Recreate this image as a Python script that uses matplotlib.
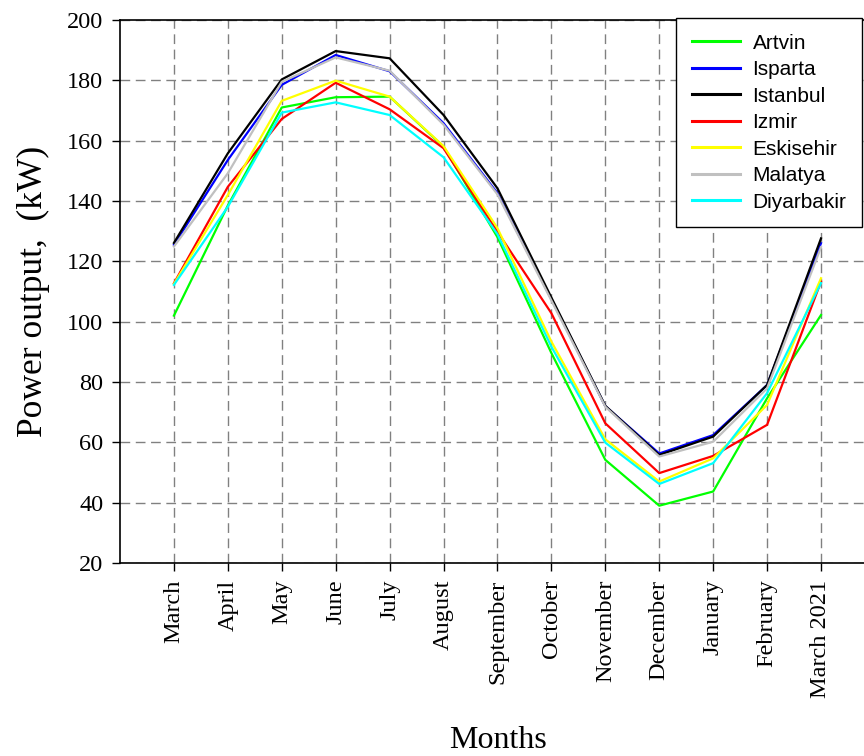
import matplotlib
matplotlib.use("Agg")
import matplotlib.pyplot as plt

months = ["March", "April", "May", "June", "July", "August", "September",
          "October", "November", "December", "January", "February", "March 2021"]

artvin = [102, 138.5, 171, 174.4, 174.6, 158, 128, 89.6, 54.2, 39, 43.7, 74.6, 102.2]
isparta = [125.5, 153.6, 178.5, 188.4, 183, 165.8, 142.6, 107.5, 72, 56.3, 62.4, 79, 126]
istanbul = [126.1, 155.8, 180.3, 189.7, 187.3, 168.5, 144.2, 108, 72.1, 55.8, 61.9, 79, 127.6]
izmir = [112.7, 144.7, 167.2, 179.2, 170.4, 157.5, 129.8, 102.8, 66.3, 49.8, 55.5, 65.8, 113.3]
eskisehir = [112.5, 142, 173.2, 179.9, 174.6, 158.2, 131, 93.4, 61, 47, 54.7, 72.4, 114.4]
malatya = [124.9, 149.2, 179.5, 187.6, 183.2, 165.3, 142.2, 107, 71.8, 55.3, 60.2, 77.9, 124.7]
diyarbakir = [112.2, 138.1, 169.3, 172.7, 168.5, 154.5, 129, 91.7, 59.9, 46.2, 53.1, 76.3, 112.8]

series = [
    ("Artvin", artvin, "#00ff00"),
    ("Isparta", isparta, "#0000ff"),
    ("Istanbul", istanbul, "#000000"),
    ("Izmir", izmir, "#ff0000"),
    ("Eskisehir", eskisehir, "#ffff00"),
    ("Malatya", malatya, "#c0c0c0"),
    ("Diyarbakir", diyarbakir, "#00ffff"),
]

serif = ["Liberation Serif", "DejaVu Serif"]
sans = ["Liberation Sans", "DejaVu Sans"]

fig = plt.figure(figsize=(8.64, 7.56), dpi=100)
ax = fig.add_axes([120 / 864, 1 - 563 / 756, 1 - 120 / 864, (563 - 20) / 756])

x = list(range(len(months)))
for name, vals, col in series:
    ax.plot(x, vals, color=col, lw=1.6, label=name, zorder=3)

ax.set_xlim(-1, 12 + (864 - 821) / 53.92)
ax.set_ylim(20, 200)
ax.set_yticks(range(20, 201, 20))
ax.set_xticks(x)
ax.set_xticklabels(months, rotation=90, fontfamily=serif, fontsize=17.5)
for lab in ax.get_yticklabels():
    lab.set_fontfamily(serif)
    lab.set_fontsize(17.5)

ax.grid(True, color="#808080", linestyle=(0, (7, 4)), lw=1.0, zorder=1)
ax.tick_params(direction="out", length=6, width=1, color="black", pad=6)
ax.spines["right"].set_visible(False)
for s in ["left", "bottom", "top"]:
    ax.spines[s].set_linewidth(1.2)

ax.set_ylabel("Power output,  (kW)", fontfamily=serif, fontsize=25.5, labelpad=12)
fig.text(498 / 864, 1 - 741 / 756, "Months", fontfamily=serif, fontsize=23,
         ha="center", va="center")

leg = ax.legend(loc="upper right", bbox_to_anchor=(862 / 864, 1 - 18 / 756),
                bbox_transform=fig.transFigure, borderaxespad=0,
                prop={"family": sans, "size": 15}, frameon=True, fancybox=False,
                handlelength=2.3, handletextpad=0.6, labelspacing=0.36,
                borderpad=0.75)
leg.get_frame().set_edgecolor("black")
leg.get_frame().set_linewidth(1.0)
leg.get_frame().set_alpha(1)
for h in leg.get_lines():
    h.set_linewidth(2.2)

fig.savefig("out.png", dpi=100)
